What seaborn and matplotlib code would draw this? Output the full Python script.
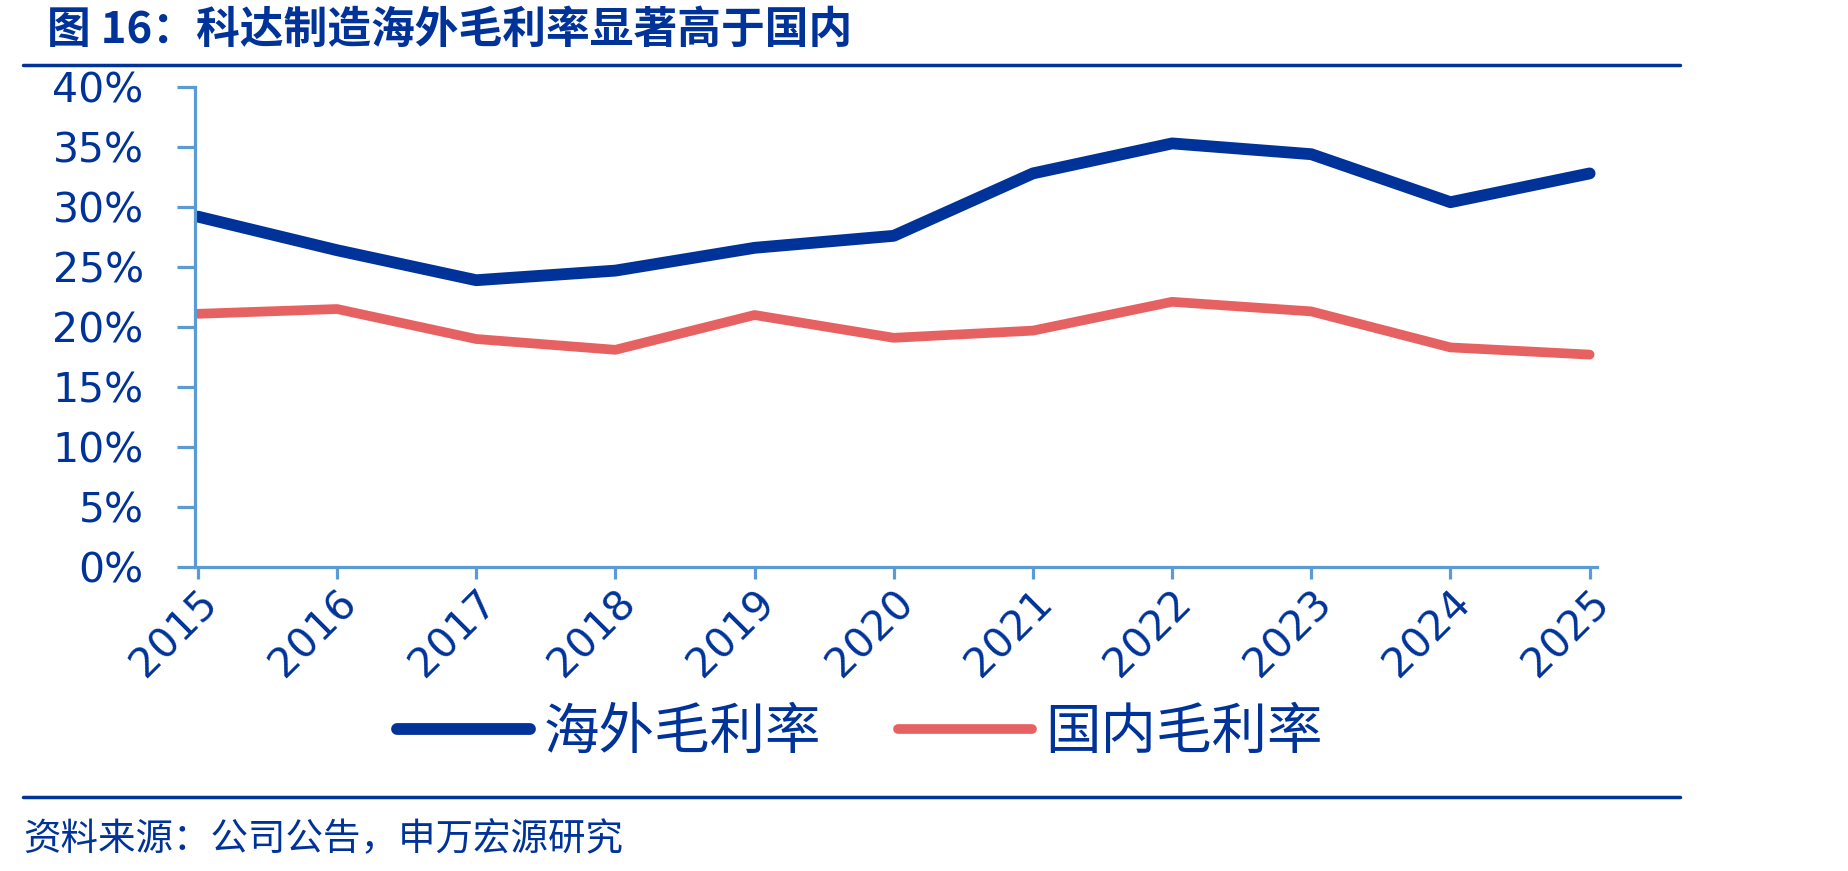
import pandas as pd
import matplotlib.pyplot as plt
import seaborn as sns
from matplotlib.lines import Line2D

# data
years = [2015, 2016, 2017, 2018, 2019, 2020, 2021, 2022, 2023, 2024, 2025]
overseas = [29.2, 26.4, 23.9, 24.7, 26.6, 27.6, 32.8, 35.3, 34.4, 30.4, 32.8]
domestic = [21.1, 21.5, 19.0, 18.1, 21.0, 19.1, 19.7, 22.1, 21.3, 18.3, 17.7]
series_names = ["海外毛利率", "国内毛利率"]
y_ticks = [0, 5, 10, 15, 20, 25, 30, 35, 40]

title = "图 16：科达制造海外毛利率显著高于国内"
source = "资料来源：公司公告，申万宏源研究"

navy = "#003399"
red = "#E66262"
axis_blue = "#5B9BD5"

sns.set_style("white")
plt.rcParams['font.family'] = ['DejaVu Sans', 'Noto Sans CJK SC']
cjk = ['Noto Sans CJK SC', 'DejaVu Sans']

df = pd.DataFrame({
    "year": years * 2,
    "value": overseas + domestic,
    "series": [series_names[0]] * len(years) + [series_names[1]] * len(years),
})

fig = plt.figure(figsize=(18.49, 8.71), dpi=100)
ax = fig.add_axes([0.1055, 0.349, 0.8635 - 0.1055, 0.9001 - 0.349])

sns.lineplot(data=df, x="year", y="value", hue="series",
             palette=[navy, red], ax=ax, legend=False)
for line, lw in zip(ax.lines, [8.5, 7]):
    line.set_linewidth(lw)
    line.set_solid_capstyle("round")
    line.set_solid_joinstyle("round")

ax.set_xlim(years[0] - 0.02, years[-1] + 0.05)
ax.set_ylim(0, 40)
ax.set_xticks(years)
ax.set_xticklabels([str(y) for y in years], rotation=45, ha="right",
                   va="top", rotation_mode="anchor")
ax.set_yticks(y_ticks)
ax.set_yticklabels([f"{t}%" for t in y_ticks])
ax.set_xlabel("")
ax.set_ylabel("")

for s in ["top", "right"]:
    ax.spines[s].set_visible(False)
for s in ["left", "bottom"]:
    ax.spines[s].set_color(axis_blue)
    ax.spines[s].set_linewidth(2.3)
ax.tick_params(axis="y", direction="out", length=13, width=2.3, color=axis_blue,
               labelsize=29.5, labelcolor=navy, pad=24, left=True)
ax.tick_params(axis="x", direction="out", length=8.5, width=2.3, color=axis_blue,
               labelsize=29.5, labelcolor=navy, pad=3, bottom=True)

# title and rules
fig.text(47 / 1849, 1 - 30 / 871, title, fontsize=31.5, fontweight="bold",
         color=navy, family=cjk, ha="left", va="center")
fig.add_artist(Line2D([23 / 1849, 1680 / 1849], [1 - 65 / 871] * 2,
                      color=navy, lw=2.5, transform=fig.transFigure))
fig.add_artist(Line2D([23 / 1849, 1680 / 1849], [1 - 797 / 871] * 2,
                      color=navy, lw=2.5, transform=fig.transFigure))
fig.text(23 / 1849, 1 - 840 / 871, source, fontsize=27, color=navy,
         family=cjk, ha="left", va="center")

# legend
handles = [Line2D([], [], color=navy, lw=8.5, solid_capstyle="round"),
           Line2D([], [], color=red, lw=7, solid_capstyle="round")]
fig.legend(handles, series_names, loc="center", bbox_to_anchor=(860 / 1849, 1 - 733 / 871),
           ncol=2, frameon=False, handlelength=2.4, handletextpad=0.25,
           columnspacing=1.38, prop={"family": cjk, "size": 40}, labelcolor=navy)

plt.savefig("out.png", dpi=100)
